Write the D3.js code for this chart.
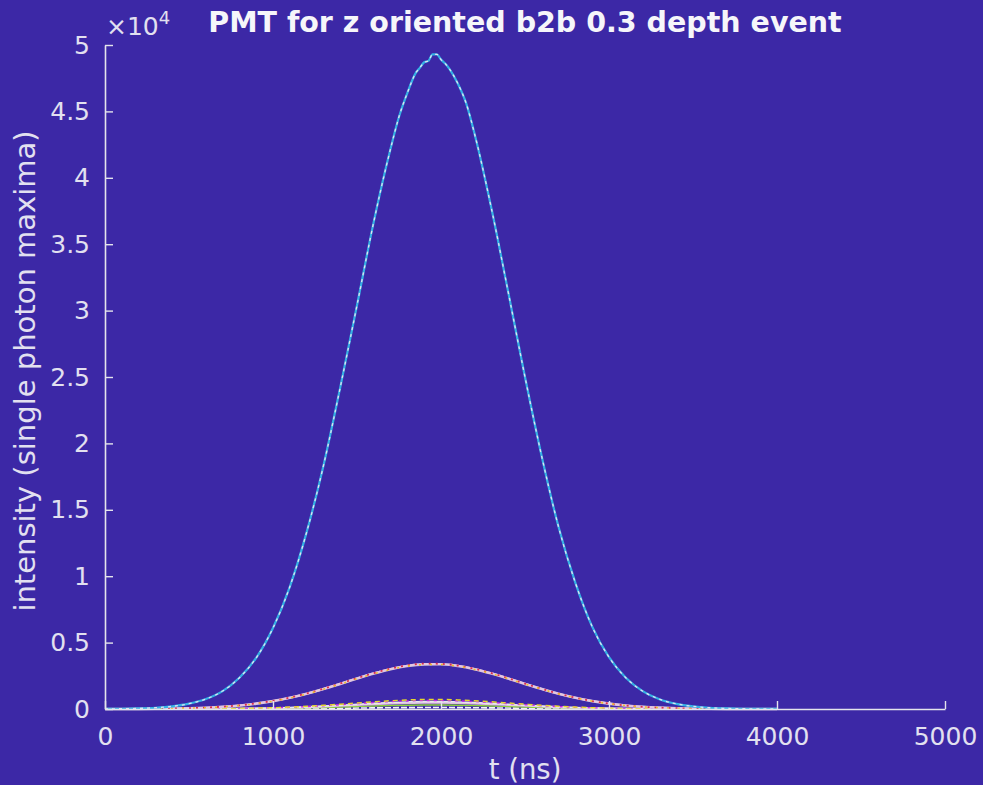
<!DOCTYPE html>
<html>
<head>
<meta charset="utf-8">
<script src="https://cdn.jsdelivr.net/npm/d3@7"></script>
<style>
  html, body { margin: 0; padding: 0; background: #3c28a6; }
  svg { display: block; }
  .tick text { font-family: "DejaVu Sans", sans-serif; }
</style>
</head>
<body>
<script>
//sample times (ns) shared by the smaller pmt traces
var times = [0,100,200,300,400,500,600,700,800,900,1000,1100,1200,1300,1400,1500,1600,1700,1800,1900,
             2000,2100,2200,2300,2400,2500,2600,2700,2800,2900,3000,3100,3200,3300,3400,3500,3600,3700,3800,3900,4000];

//brightest pmt, denser sampling round the peak
var mainTimes = [0,100,200,300,400,500,600,700,800,900,1000,1100,1200,1300,1400,1500,1600,1700,
                 1750,1800,1850,1875,1900,1925,1950,1975,2000,2025,2050,2100,2150,2200,
                 2300,2400,2500,2600,2700,2800,2900,3000,3100,3200,3300,3400,3500,3600,3700,3800,3900,4000];
var mainValues = [10,20,45,95,200,400,750,1350,2350,3850,6100,9200,13300,18300,24200,30400,36700,42200,
                  44600,46400,47900,48300,48700,48800,49300,49300,48900,48600,48200,47100,45600,43300,
                  37700,31400,25000,19000,13700,9500,6200,3900,2350,1350,740,390,200,95,45,20,10,5];

//middle bundle (~3400 peak)
var medPink   = [2,5,9,18,34,60,102,169,268,409,600,848,1153,1510,1901,2304,2687,3016,3256,3384,
                 3384,3256,3016,2687,2304,1901,1510,1153,848,600,409,268,169,102,60,34,18,9,5,2,2];
var medRed    = [0,3,8,20,38,66,110,175,280,420,615,860,1170,1530,1920,2330,2700,3040,3290,3420,
                 3400,3270,3030,2700,2320,1910,1520,1160,850,600,405,265,165,100,58,32,16,8,4,2,0];
var medYellow = [5,8,12,22,36,58,98,160,258,398,585,830,1130,1480,1870,2270,2650,2980,3220,3340,
                 3350,3220,2980,2660,2280,1880,1490,1140,840,590,400,262,165,100,60,34,18,10,6,4,3];
var medGray   = [0,2,6,15,30,55,96,162,262,402,592,840,1145,1500,1890,2290,2670,3000,3240,3360,
                 3370,3240,3000,2670,2290,1890,1500,1145,840,595,405,266,167,101,59,33,17,8,4,1,0];

//low bundle (<= ~700)
var smallYellow  = [20,22,20,24,22,25,28,35,45,65,95,142,202,277,363,455,545,622,680,712,
                    714,682,625,545,455,363,277,202,142,95,62,40,27,20,18,16,15,14,13,12,12];
var smallMagenta = [0,0,0,2,3,5,10,18,32,53,84,126,180,247,323,405,486,556,608,637,
                    637,608,556,486,405,323,247,180,126,84,53,32,18,10,5,3,1,0,0,0,0];
var smallWhite   = [0,0,0,1,3,5,9,16,28,46,73,110,157,215,282,354,425,486,532,557,
                    557,532,486,425,354,282,215,157,110,73,46,28,16,9,5,3,1,0,0,0,0];
var smallPink    = [0,0,0,1,2,4,7,13,23,39,61,92,131,180,237,297,356,407,446,466,
                    466,446,407,356,297,237,180,131,92,61,39,23,13,7,4,2,1,0,0,0,0];
var smallGreen   = [0,0,0,0,1,3,5,9,15,25,39,59,84,115,151,190,228,261,285,298,
                    298,285,261,228,190,151,115,84,59,39,25,15,9,5,3,1,0,0,0,0,0];
var tinyWhite    = [0,0,0,0,0,1,2,4,6,9,14,22,31,42,55,70,84,96,104,109,
                    109,104,96,84,70,55,42,31,22,14,9,6,4,2,1,0,0,0,0,0,0];

//axis ticks
var xTicks = [0,1000,2000,3000,4000,5000];
var yTicks = [0,5000,10000,15000,20000,25000,30000,35000,40000,45000,50000];
var yTickLabels = ["0","0.5","1","1.5","2","2.5","3","3.5","4","4.5","5"];

(function(){

//frame (plotTop not "top": window.top is read-only)
var width = 983, height = 785,
    plotLeft = 105, plotRight = 945, plotTop = 45, plotBottom = 709,
    bg = "#3c28a6", axisColor = "#e4e4ec", textColor = "#e2e0f0";

var x = d3.scaleLinear().domain([0, 5000]).range([plotLeft, plotRight]);
var y = d3.scaleLinear().domain([0, 50000]).range([plotBottom, plotTop]);

var svg = d3.select("body").append("svg")
    .attr("width", width)
    .attr("height", height);

svg.append("rect")
    .attr("width", width)
    .attr("height", height)
    .attr("fill", bg);

var line = d3.line()
    .x(function(d){ return x(d[0]); })
    .y(function(d){ return y(d[1]); })
    .curve(d3.curveMonotoneX);

//draw order: low ones first, brightest last
var traces = [
    {t: times, v: tinyWhite,    color: "#f2f2f6", w: 1.6, dash: "6,2"},
    {t: times, v: smallGreen,   color: "#8ccf3c", w: 1.4},
    {t: times, v: smallPink,    color: "#e2bfe0", w: 1.8},
    {t: times, v: smallWhite,   color: "#e8e8ee", w: 1.6},
    {t: times, v: smallMagenta, color: "#c624e4", w: 1.4, dash: "3,4"},
    {t: times, v: smallYellow,  color: "#e6d82e", w: 1.5, dash: "5,4"},
    {t: times, v: medGray,      color: "#cdbfd6", w: 2.6},
    {t: times, v: medPink,      color: "#e4c6e2", w: 2.0},
    {t: times, v: medRed,       color: "#da2e4e", w: 1.8, dash: "2,5"},
    {t: times, v: medYellow,    color: "#e9bf2a", w: 1.6, dash: "2,9"},
    {t: mainTimes, v: mainValues, color: "#36b2e6", w: 2.2},
    {t: mainTimes, v: mainValues, color: "#dfe3ef", w: 1.3, dash: "3,4"}
];

svg.append("g").attr("class", "traces")
  .selectAll("path")
    .data(traces)
    .enter()
    .append("path")
    .attr("d", function(d){ return line(d3.zip(d.t, d.v)); })
    .attr("fill", "none")
    .attr("stroke", function(d){ return d.color; })
    .attr("stroke-width", function(d){ return d.w; })
    .attr("stroke-dasharray", function(d){ return d.dash || null; })
    .attr("stroke-linejoin", "round");

//axes, ticks point inward like matlab
var xAxis = d3.axisBottom(x)
    .tickValues(xTicks)
    .tickFormat(d3.format("d"))
    .tickSizeInner(-8)
    .tickSizeOuter(0)
    .tickPadding(18);

var yAxis = d3.axisLeft(y)
    .tickValues(yTicks)
    .tickFormat(function(d, i){ return yTickLabels[i]; })
    .tickSizeInner(-8)
    .tickSizeOuter(0)
    .tickPadding(15);

var gx = svg.append("g")
    .attr("transform", "translate(0," + plotBottom + ")")
    .call(xAxis);

var gy = svg.append("g")
    .attr("transform", "translate(" + plotLeft + ",0)")
    .call(yAxis);

[gx, gy].forEach(function(g){
    g.select(".domain").attr("stroke", axisColor).attr("stroke-width", 1.6);
    g.selectAll(".tick line").attr("stroke", axisColor).attr("stroke-width", 1.4);
    g.selectAll(".tick text")
        .attr("fill", textColor)
        .style("font-size", "25px");
});

//exponent
var expo = svg.append("text")
    .attr("x", 106)
    .attr("y", 35)
    .attr("fill", textColor)
    .style("font-family", "DejaVu Sans, sans-serif")
    .style("font-size", "25px")
    .text("\u00d710");
expo.append("tspan")
    .attr("dy", -11)
    .style("font-size", "18px")
    .text("4");

//title
svg.append("text")
    .attr("x", (plotLeft + plotRight) / 2)
    .attr("y", 32)
    .attr("text-anchor", "middle")
    .attr("fill", "#f6f6fa")
    .style("font-family", "DejaVu Sans, sans-serif")
    .style("font-weight", "bold")
    .style("font-size", "28.5px")
    .text("PMT for z oriented b2b 0.3 depth event");

//axis labels
svg.append("text")
    .attr("x", (plotLeft + plotRight) / 2)
    .attr("y", 779)
    .attr("text-anchor", "middle")
    .attr("fill", textColor)
    .style("font-family", "DejaVu Sans, sans-serif")
    .style("font-size", "27.5px")
    .text("t (ns)");

svg.append("text")
    .attr("transform", "translate(35," + 371 + ") rotate(-90)")
    .attr("text-anchor", "middle")
    .attr("fill", textColor)
    .style("font-family", "DejaVu Sans, sans-serif")
    .style("font-size", "29px")
    .text("intensity (single photon maxima)");

})();
</script>
</body>
</html>
